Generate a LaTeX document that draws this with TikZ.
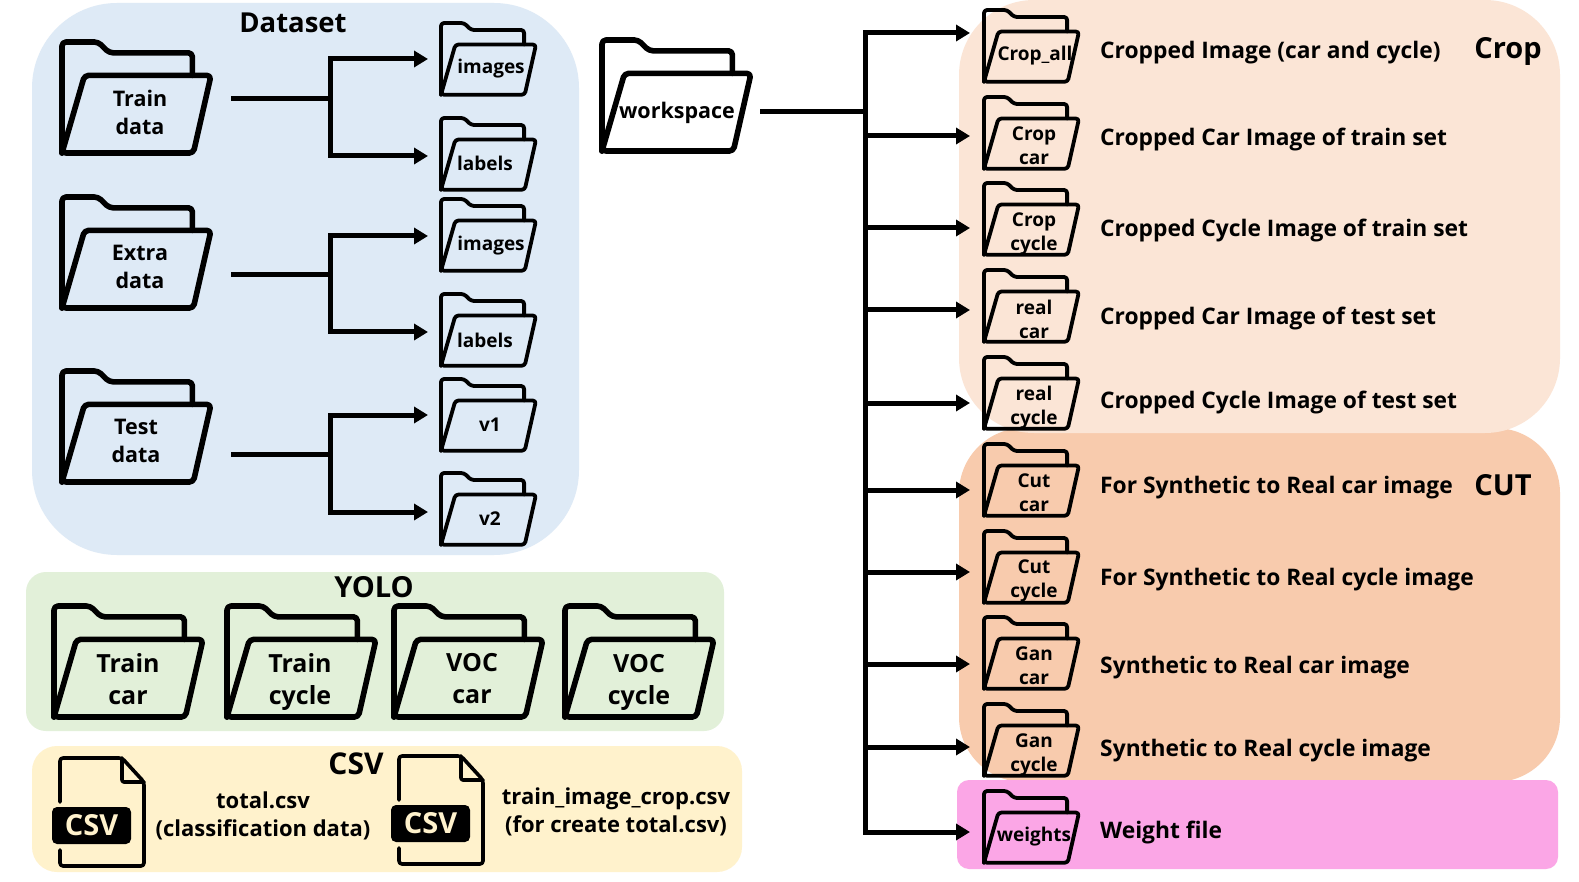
\documentclass[tikz,border=0pt]{standalone}
\usepackage{fontspec}
\setmainfont{Open Sans}
\usetikzlibrary{arrows.meta,calc}
\definecolor{cdata}{HTML}{DEEAF6}
\definecolor{ccrop}{HTML}{FBE5D6}
\definecolor{ccut}{HTML}{F8CBAD}
\definecolor{cweight}{HTML}{FBA6E6}
\definecolor{cyolo}{HTML}{E2F0D9}
\definecolor{ccsv}{HTML}{FFF2CC}
\tikzset{
  panel/.style={draw=none},
  conn/.style={line width=5pt,line join=miter,-{Triangle[length=14pt,width=16pt]},shorten >=12pt},
  stem/.style={line width=5pt},
  folderline/.style={draw=black,line join=round,line cap=round},
  ftiny/.style={align=center,inner sep=0pt,font=\bfseries\fontsize{19}{24}\selectfont},
  fbig/.style={align=center,inner sep=0pt,font=\bfseries\fontsize{21.5}{28}\selectfont},
  fyolo/.style={align=center,inner sep=0pt,font=\bfseries\fontsize{25}{32}\selectfont},
  title/.style={inner sep=0pt,font=\bfseries\fontsize{29}{32}\selectfont},
  desc/.style={anchor=west,inner sep=0pt,font=\bfseries\fontsize{22.8}{28}\selectfont},
  csvtext/.style={align=center,inner sep=0pt,font=\bfseries\fontsize{22}{28}\selectfont},
}
% name x y w h linewidth radius
\newcommand\folderbase[7]{%
  \node[minimum width=#4pt,minimum height=#5pt,inner sep=0pt,anchor=north west] (#1) at (#2,#3) {};
  \begin{scope}[shift={(#2,#3)},xscale={#4/152},yscale={#5/115}]
    \draw[folderline,line width=#6pt,rounded corners=#7pt]
      (0,113) -- (0,0) -- (37,0) -- (48,11) -- (133,11) -- (133,34);
    \draw[folderline,line width=#6pt,rounded corners=#7pt]
      (0,113) -- (23,34) -- (152,34) -- (134,113) -- cycle;
    \draw[folderline,line width=#6pt] (0,113) -- (0,100);
  \end{scope}}
% name x y labeldx labeldy text
\newcommand\bigf[6]{\folderbase{#1}{#2}{#3}{149}{113}{5.6}{4}
  \node[fbig] (#1-t) at ($(#2,#3)+(#4,#5)$) {#6};}
\newcommand\yolof[6]{\folderbase{#1}{#2}{#3}{149}{113}{5.6}{4}
  \node[fyolo] (#1-t) at ($(#2,#3)+(#4,#5)$) {#6};}
\newcommand\smallf[6]{\folderbase{#1}{#2}{#3}{95}{73}{3.8}{3}
  \node[ftiny] (#1-t) at ($(#2,#3)+(#4,#5)$) {#6};}
% name x y
\newcommand\csvicon[3]{%
  \begin{scope}[shift={(#2,#3)}]
    \draw[folderline,line width=3.6pt,rounded corners=3pt]
      (0,44) -- (0,0) -- (62,0) -- (84,24) -- (84,108) -- (0,108) -- (0,92);
    \draw[folderline,line width=3.6pt,rounded corners=2pt] (62,0) -- (62,24) -- (84,24);
    \node[fill=black,rounded corners=5pt,minimum width=79pt,minimum height=37pt,inner sep=0pt,
      text=ccsv,font=\bfseries\fontsize{29}{32}\selectfont] (#1) at (31.5,67.5) {CSV};
  \end{scope}}
\begin{document}
\begin{tikzpicture}[x=1pt,y=-1pt]
\path[use as bounding box,fill=white] (0,0) rectangle (1579,882);
% panels
\fill[panel,cdata,rounded corners=85pt] (32,3) rectangle (579,555);
\fill[panel,ccut,rounded corners=65pt] (959,428) rectangle (1560,782);
\fill[panel,ccrop,rounded corners=75pt] (959,0) rectangle (1560,433);
\fill[panel,cweight,rounded corners=12pt] (957,780) rectangle (1558,869);
\fill[panel,cyolo,rounded corners=20pt] (26,572) rectangle (724,731);
\fill[panel,ccsv,rounded corners=25pt] (32,746) rectangle (742,872);
% titles
\node[title,font=\bfseries\fontsize{27.5}{32}\selectfont] (tdata) at (293,23) {Dataset};
\node[title] (tcrop) at (1508,51) {Crop};
\node[title] (tcut) at (1503,485) {CUT};
\node[title] (tyolo) at (374,587) {YOLO};
\node[title,font=\bfseries\fontsize{30}{32}\selectfont] (tcsv) at (356,764) {CSV};
% dataset folders
\bigf{train}{62}{42}{78}{70}{Train\\data}
\bigf{extra}{62}{197}{78}{70}{Extra\\data}
\bigf{test}{62}{371}{74}{70}{Test\\data}
\smallf{ia}{441}{23}{50}{46}{images}
\smallf{la}{441}{118}{44}{45}{labels}
\smallf{ib}{441}{199}{50}{47}{images}
\smallf{lb}{441}{294}{44}{46}{labels}
\smallf{va}{441}{379}{49}{46}{v1}
\smallf{vb}{441}{473}{49}{46}{v2}
% workspace
\bigf{work}{602}{40}{75}{73}{workspace}
% right folders
\smallf{r1}{984}{10}{51}{46}{Crop\_all}
\smallf{r2}{984}{97}{50}{49}{Crop\\car}
\smallf{r3}{984}{183}{50}{51}{Crop\\cycle}
\smallf{r4}{984}{270}{50}{49}{real\\car}
\smallf{r5}{984}{357}{50}{51}{real\\cycle}
\smallf{r6}{984}{444}{50}{49}{Cut\\car}
\smallf{r7}{984}{531}{50}{50}{Cut\\cycle}
\smallf{r8}{984}{617}{50}{49}{Gan\\car}
\smallf{r9}{984}{704}{50}{51}{Gan\\cycle}
\smallf{r10}{984}{791}{50}{46}{weights}
% descriptions
\node[desc] (d1) at (1100,53) {Cropped Image (car and cycle)};
\node[desc] (d2) at (1100,140) {Cropped Car Image of train set};
\node[desc] (d3) at (1100,231) {Cropped Cycle Image of train set};
\node[desc] (d4) at (1100,319) {Cropped Car Image of test set};
\node[desc] (d5) at (1100,403) {Cropped Cycle Image of test set};
\node[desc] (d6) at (1100,488) {For Synthetic to Real car image};
\node[desc] (d7) at (1100,580) {For Synthetic to Real cycle image};
\node[desc] (d8) at (1100,668) {Synthetic to Real car image};
\node[desc] (d9) at (1100,751) {Synthetic to Real cycle image};
\node[desc] (d10) at (1100,833) {Weight file};
% yolo
\yolof{y1}{54}{606}{74}{73}{Train\\car}
\yolof{y2}{227}{606}{73}{76}{Train\\cycle}
\yolof{y3}{394}{606}{78}{73}{VOC\\car}
\yolof{y4}{565}{606}{74}{76}{VOC\\cycle}
% csv
\csvicon{c1}{60}{758}
\csvicon{c2}{399}{756}
\node[csvtext] (ct1) at (263,816) {total.csv\\(classification data)};
\node[csvtext] (ct2) at (616,812) {train\_image\_crop.csv\\(for create total.csv)};
% dataset connectors
\coordinate (j1) at (330,99);
\coordinate (j2) at (330,275);
\coordinate (j3) at (330,454);
\draw[stem,shorten <=20pt] (train.east |- j1) -- (j1);
\draw[stem,shorten <=20pt] (extra.east |- j2) -- (j2);
\draw[stem,shorten <=20pt] (test.east |- j3) -- (j3);
\draw[conn,shorten >=13pt] (j1) |- (ia.west |- 0,59);
\draw[conn,shorten >=13pt] (j1) |- (la.west |- 0,156);
\draw[conn,shorten >=13pt] (j2) |- (ib.west |- 0,236);
\draw[conn,shorten >=13pt] (j2) |- (lb.west |- 0,332);
\draw[conn,shorten >=13pt] (j3) |- (va.west |- 0,415);
\draw[conn,shorten >=13pt] (j3) |- (vb.west |- 0,512);
% workspace connectors
\coordinate (jw) at (865,112);
\draw[stem,shorten <=9pt] (work.east |- jw) -- (jw);
\draw[conn,shorten >=14pt] (jw) |- (r1.west |- 0,33);
\draw[conn,shorten >=14pt] (jw) |- (r2.west |- 0,136);
\draw[conn,shorten >=14pt] (jw) |- (r3.west |- 0,228);
\draw[conn,shorten >=14pt] (jw) |- (r4.west |- 0,310);
\draw[conn,shorten >=14pt] (jw) |- (r5.west |- 0,403);
\draw[conn,shorten >=14pt] (jw) |- (r6.west |- 0,490);
\draw[conn,shorten >=14pt] (jw) |- (r7.west |- 0,572);
\draw[conn,shorten >=14pt] (jw) |- (r8.west |- 0,664);
\draw[conn,shorten >=14pt] (jw) |- (r9.west |- 0,747);
\draw[conn,shorten >=14pt] (jw) |- (r10.west |- 0,832);
\end{tikzpicture}
\end{document}
